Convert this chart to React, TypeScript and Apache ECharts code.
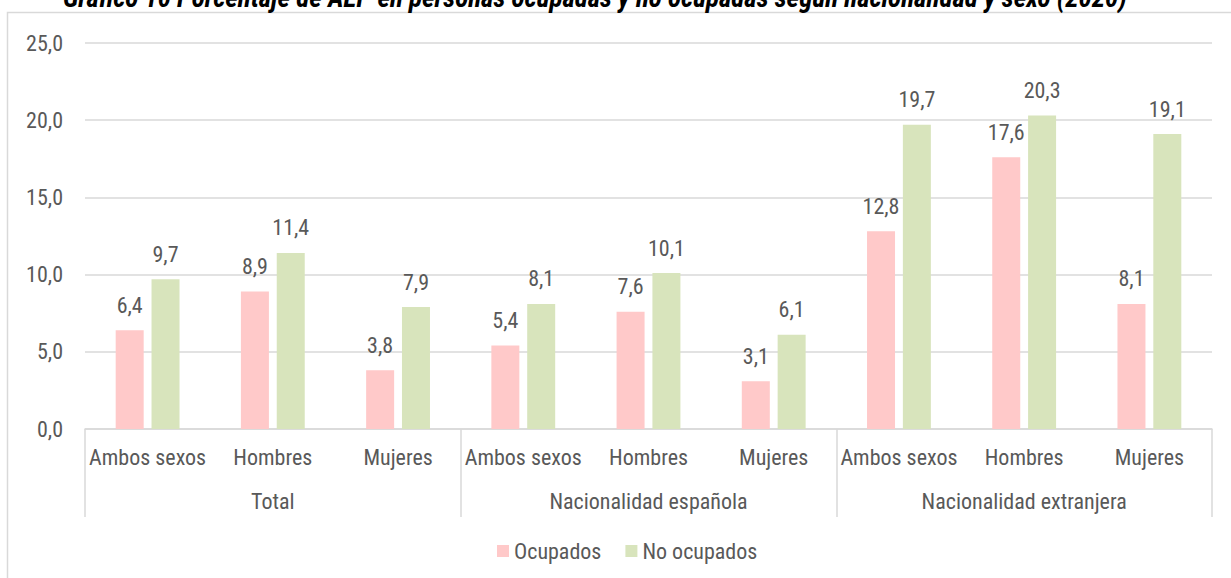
import React, { useEffect, useRef } from "react";
import * as echarts from "echarts";

const subCategories = ["Ambos sexos", "Hombres", "Mujeres", "Ambos sexos", "Hombres", "Mujeres", "Ambos sexos", "Hombres", "Mujeres"];
const groups = ["Total", "Nacionalidad española", "Nacionalidad extranjera"];
const ocupados = [6.4, 8.9, 3.8, 5.4, 7.6, 3.1, 12.8, 17.6, 8.1];
const noOcupados = [9.7, 11.4, 7.9, 8.1, 10.1, 6.1, 19.7, 20.3, 19.1];
const yTicks = { min: 0, max: 25, step: 5 };
const title = "Gráfico 10 Porcentaje de AEP en personas ocupadas y no ocupadas según nacionalidad y sexo (2020)";

const FONT = "'Roboto Condensed', 'Liberation Sans', Arial, sans-serif";
const GRAY = "#595959";
const LINE = "#D9D9D9";
const fmt = (v: number) => v.toFixed(1).replace(".", ",");

export default function App() {
  const ref = useRef<HTMLDivElement>(null);
  useEffect(() => {
    if (!ref.current) return;
    const chart = echarts.init(ref.current, null, { renderer: "svg" });
    const labelStyle = {
      show: true,
      position: "top",
      distance: 14,
      color: GRAY,
      fontSize: 22,
      fontFamily: FONT,
      formatter: (p: any) => fmt(p.value),
    };
    chart.setOption({
      animation: false,
      textStyle: { fontFamily: FONT },
      grid: { left: 85, right: 19, top: 43, bottom: 149 },
      graphic: [
        {
          type: "rect",
          shape: { x: 7.5, y: 12.5, width: 1240, height: 600 },
          style: { fill: "none", stroke: LINE, lineWidth: 1.5 },
          silent: true,
        },
        {
          type: "text",
          x: 63,
          y: 11,
          style: {
            text: title,
            font: `italic bold 27px ${FONT}`,
            fill: "#000",
            textAlign: "left",
            textVerticalAlign: "bottom",
          },
        },
      ],
      legend: {
        data: ["Ocupados", "No ocupados"],
        left: 492,
        top: 535,
        itemWidth: 12,
        itemHeight: 12,
        itemGap: 24,
        icon: "rect",
        textStyle: { fontFamily: FONT, fontSize: 22, color: GRAY },
      },
      xAxis: [
        {
          type: "category",
          data: subCategories,
          axisLine: { lineStyle: { color: LINE, width: 1.5 } },
          axisTick: { show: false },
          axisLabel: { color: GRAY, fontSize: 22, fontFamily: FONT, margin: 17, interval: 0 },
        },
        {
          type: "category",
          data: groups,
          position: "bottom",
          axisLine: { show: false },
          axisTick: { show: true, length: 88, lineStyle: { color: LINE, width: 1.5 } },
          axisLabel: { color: GRAY, fontSize: 22, fontFamily: FONT, margin: 61, interval: 0 },
        },
      ],
      yAxis: {
        type: "value",
        min: yTicks.min,
        max: yTicks.max,
        interval: yTicks.step,
        axisLine: { show: false },
        axisTick: { show: false },
        splitLine: { lineStyle: { color: LINE, width: 1.5 } },
        axisLabel: { color: GRAY, fontSize: 22, fontFamily: FONT, margin: 22, formatter: (v: number) => fmt(v) },
      },
      series: [
        {
          name: "Ocupados",
          type: "bar",
          data: ocupados,
          barWidth: 28,
          barGap: "28%",
          itemStyle: { color: "#FFC9C9" },
          label: labelStyle,
        },
        {
          name: "No ocupados",
          type: "bar",
          data: noOcupados,
          barWidth: 28,
          barGap: "28%",
          itemStyle: { color: "#D8E4BC" },
          label: labelStyle,
        },
      ],
    });
    return () => chart.dispose();
  }, []);
  return <div ref={ref} style={{ position: "absolute", left: 0, top: 0, width: 1231, height: 578 }} />;
}
